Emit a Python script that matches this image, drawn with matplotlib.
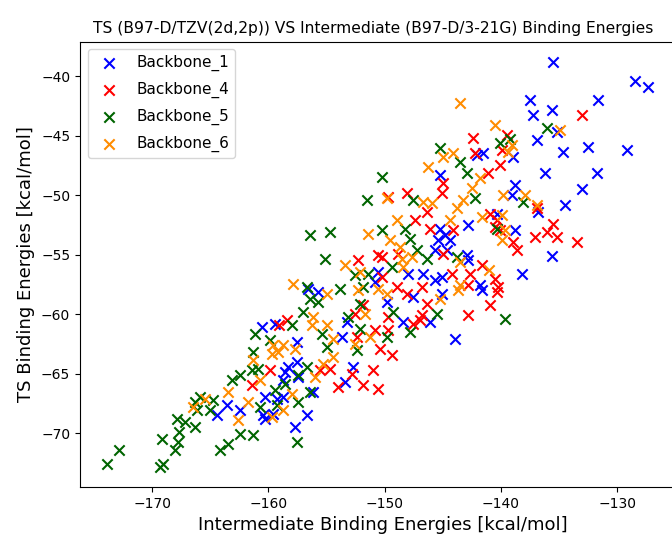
import matplotlib
matplotlib.use("Agg")
import matplotlib.pyplot as plt

# binding energies [kcal/mol]: intermediate (x) vs TS (y)
bb1_x = [-160.57, -159.42, -160.28, -159.28, -163.58, -164.44, -162.43, -160.43, -160.28, -159.57,
         -156.56, -155.70, -150.57, -150.83, -153.26, -153.69, -152.69, -153.41, -158.28, -157.56,
         -149.82, -158.56, -157.56, -157.42, -158.71, -156.13, -156.70, -157.70, -158.71, -145.24,
         -142.08, -141.51, -138.94, -138.79, -139.07, -142.80, -145.24, -144.81, -145.38, -144.38,
         -144.66, -142.94, -142.80, -145.67, -138.79, -138.21, -147.96, -146.67, -145.09, -141.80,
         -145.67, -140.36, -135.50, -128.47, -127.33, -131.63, -137.50, -135.63, -137.22, -135.20,
         -136.92, -134.64, -132.49, -129.19, -136.21, -131.76, -133.05, -134.49, -136.79, -135.63,
         -143.95, -146.10, -148.39, -145.09, -141.65, -147.53]
bb1_y = [-61.07, -60.78, -66.95, -67.08, -67.65, -68.49, -68.07, -68.49, -68.76, -68.34,
         -57.84, -58.13, -56.44, -57.29, -60.65, -61.91, -64.43, -65.69, -64.43, -62.33,
         -58.97, -64.85, -64.01, -65.27, -65.55, -66.53, -68.49, -69.47, -66.95, -48.32,
         -46.64, -46.50, -46.78, -49.16, -50.00, -52.52, -52.80, -53.36, -53.78, -53.78,
         -54.62, -55.04, -55.46, -54.62, -52.94, -56.58, -56.58, -56.58, -56.87, -57.56,
         -57.14, -51.54, -38.80, -40.39, -40.90, -42.02, -42.02, -42.86, -43.28, -44.68,
         -45.38, -46.36, -45.94, -46.22, -48.18, -48.18, -49.52, -50.84, -51.40, -55.13,
         -62.04, -60.65, -60.65, -58.26, -57.98, -58.55]

bb4_x = [-159.85, -161.43, -159.08, -152.26, -150.54, -158.42, -152.55, -151.83, -149.68, -150.83,
         -149.68, -150.40, -149.39, -150.97, -152.83, -153.98, -155.56, -154.70, -152.40, -151.83,
         -150.54, -142.23, -139.93, -140.08, -141.08, -148.10, -149.68, -146.38, -147.39, -145.09,
         -144.95, -146.10, -148.82, -144.95, -140.94, -140.36, -140.08, -138.94, -138.64, -141.65,
         -142.66, -142.80, -140.51, -140.23, -144.23, -146.81, -150.25, -148.96, -150.25, -144.09,
         -140.51, -139.50, -142.37, -133.05, -136.92, -135.50, -136.06, -135.20, -137.07, -133.48,
         -140.94, -142.80, -140.36, -148.10, -146.38, -146.81, -147.53, -146.96]
bb4_y = [-64.71, -65.97, -60.92, -55.46, -55.04, -60.50, -59.94, -59.24, -60.23, -61.34,
         -61.34, -62.88, -63.44, -64.71, -64.98, -66.11, -64.71, -64.56, -61.91, -65.97,
         -66.24, -46.50, -46.22, -47.48, -48.18, -49.86, -50.14, -51.40, -52.10, -49.86,
         -49.02, -52.80, -54.90, -54.90, -51.54, -52.10, -52.94, -53.92, -54.62, -55.88,
         -56.58, -57.56, -57.00, -57.71, -56.58, -57.71, -56.87, -57.71, -55.18, -52.94,
         -52.66, -44.96, -45.24, -43.28, -51.12, -52.38, -53.08, -53.50, -53.50, -53.92,
         -59.24, -60.08, -58.13, -58.26, -59.10, -60.08, -60.78, -60.50]

bb5_x = [-173.89, -172.81, -169.17, -169.31, -169.10, -168.02, -167.74, -167.65, -167.82, -163.44,
         -164.15, -161.14, -159.85, -161.29, -161.43, -160.86, -162.43, -163.15, -165.87, -166.30,
         -164.73, -165.01, -166.16, -167.16, -166.30, -162.43, -161.29, -160.71, -159.42, -159.28,
         -155.13, -156.70, -156.42, -155.70, -153.84, -152.55, -151.40, -151.83, -152.12, -153.12,
         -155.41, -154.98, -157.99, -156.99, -152.40, -152.12, -156.70, -157.42, -158.56, -149.82,
         -149.25, -157.42, -157.56, -156.42, -151.54, -154.70, -156.42, -145.24, -143.52, -142.94,
         -150.25, -147.53, -142.23, -138.08, -140.08, -148.25, -147.82, -146.38, -143.80, -150.25,
         -149.39, -140.36, -147.24, -136.06, -139.22, -139.65, -145.52, -147.82]
bb5_y = [-72.54, -71.37, -70.44, -72.83, -72.60, -71.43, -70.73, -69.89, -68.76, -70.92,
         -71.43, -61.62, -62.18, -63.17, -64.71, -64.56, -65.13, -65.49, -66.95, -67.37,
         -67.23, -68.07, -68.07, -69.05, -69.47, -70.02, -70.17, -67.79, -66.39, -67.65,
         -55.32, -57.71, -58.68, -58.97, -57.84, -56.72, -56.58, -57.71, -59.10, -60.23,
         -61.62, -62.75, -60.92, -59.81, -63.02, -61.20, -64.43, -65.13, -65.82, -61.91,
         -59.81, -67.37, -70.73, -66.53, -50.42, -53.08, -53.36, -46.08, -47.20, -48.18,
         -48.46, -50.42, -50.28, -50.56, -45.66, -52.80, -53.64, -55.32, -55.18, -52.94,
         -56.02, -52.80, -54.62, -44.39, -45.29, -60.36, -59.94, -61.49]

bb6_x = [-159.57, -159.14, -161.29, -159.71, -163.44, -161.72, -162.58, -166.45, -165.44, -159.71,
         -160.71, -157.85, -153.41, -152.12, -154.98, -152.26, -151.69, -156.13, -156.27, -154.98,
         -154.41, -152.55, -151.26, -158.71, -155.27, -154.41, -157.70, -150.54, -155.99, -157.99,
         -158.71, -151.40, -144.09, -146.24, -144.95, -141.80, -142.51, -143.80, -143.23, -146.67,
         -145.95, -149.82, -148.96, -149.54, -148.68, -144.38, -141.65, -139.93, -139.65, -139.93,
         -137.93, -139.80, -139.07, -139.37, -147.67, -148.53, -148.39, -143.52, -141.06, -143.52,
         -149.82, -143.52, -140.51, -134.92, -136.92, -145.24, -143.66]
bb6_y = [-62.60, -63.17, -63.87, -63.30, -66.53, -67.37, -68.91, -67.79, -67.08, -68.63,
         -65.55, -57.42, -55.88, -56.44, -58.26, -57.98, -59.94, -60.23, -60.92, -60.92,
         -62.04, -62.46, -61.91, -62.60, -64.14, -63.59, -62.88, -57.84, -65.27, -66.66,
         -68.07, -53.22, -46.50, -47.62, -46.78, -48.60, -49.44, -51.12, -50.42, -50.56,
         -50.70, -50.28, -52.10, -53.78, -54.34, -52.10, -51.82, -51.68, -52.94, -53.78,
         -50.00, -50.00, -45.80, -46.36, -55.18, -55.32, -56.02, -55.60, -56.30, -57.56,
         -58.26, -42.29, -44.12, -44.54, -50.84, -58.68, -57.98]

series = [
    ("Backbone_1", bb1_x, bb1_y, "blue"),
    ("Backbone_4", bb4_x, bb4_y, "red"),
    ("Backbone_5", bb5_x, bb5_y, "darkgreen"),
    ("Backbone_6", bb6_x, bb6_y, "darkorange"),
]

fig = plt.figure(figsize=(6.72, 5.39), dpi=100)
# right spine sits just past the image edge, as in the reference crop
ax = fig.add_axes([0.119, 0.0965, 0.90, 0.8265])

for name, xs, ys, col in series:
    ax.scatter(xs, ys, marker="x", s=55, color=col, linewidths=1.5, label=name)

ax.set_xlim(-176.2, -124.2)
ax.set_ylim(-74.5, -37.1)
ax.set_xticks([-170, -160, -150, -140, -130])
ax.set_yticks([-70, -65, -60, -55, -50, -45, -40])
ax.tick_params(labelsize=10)

ax.set_xlabel("Intermediate Binding Energies [kcal/mol]", fontsize=13)
ax.set_ylabel("TS Binding Energies [kcal/mol]", fontsize=13)
ax.set_title("TS (B97-D/TZV(2d,2p)) VS Intermediate (B97-D/3-21G) Binding Energies",
             fontsize=11.2, x=0.485)

ax.legend(loc="upper left", fontsize=11, labelspacing=0.7)

fig.savefig("out.png", dpi=100)
